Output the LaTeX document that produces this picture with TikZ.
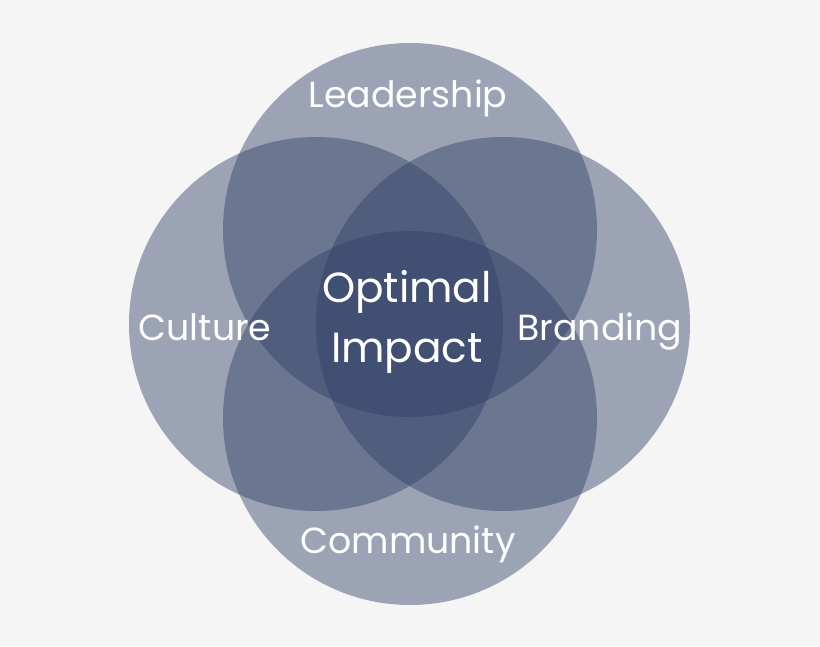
\documentclass[tikz,border=0pt]{standalone}
\usepackage{fontspec}
\setmainfont{Poppins}
\usetikzlibrary{positioning}
\definecolor{venn}{RGB}{48,64,102}
\definecolor{bgcol}{RGB}{245,245,245}
\tikzset{
    petal/.style={fill=venn, fill opacity=0.45, draw=none},
    tag/.style={text=white, font=\fontsize{31}{36}\selectfont}
}
\begin{document}
\begin{tikzpicture}[x=0.03cm, y=-0.03cm]
    \fill[bgcol] (0,0) rectangle (820,646);
    \useasboundingbox (0,0) rectangle (820,646);
    \coordinate (top) at (410,230);
    \coordinate (bottom) at (410,418);
    \coordinate (left) at (316,324);
    \coordinate (right) at (503,324);
    \foreach \c in {top,bottom,left,right}
        \fill[petal] (\c) circle (187);
    \node[tag] (leader) at (408,98) {Leadership};
    \node[tag] (culture) at (205,327) {Culture};
    \node[tag] (brand) at (600,332) {Branding};
    \node[tag] (commun) at (408,544) {Community};
    \node[tag, font=\fontsize{36}{51}\selectfont, align=center] (impact) at (407,322) {Optimal\\Impact};
\end{tikzpicture}
\end{document}
